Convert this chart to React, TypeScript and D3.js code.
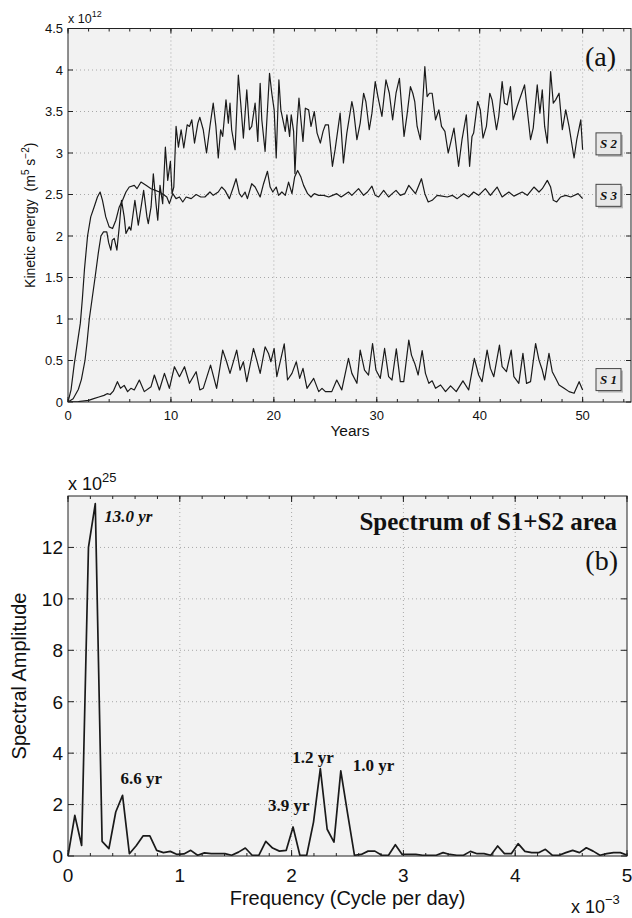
import React from "react";
import * as d3 from "d3";

// ---- Panel (a): kinetic energy time series (years, x1e12 m^5 s^-2)
const S1: [number, number][] = [
  [0, 0], [1, 0.005], [2, 0.02], [2.5, 0.04], [3, 0.06], [3.5, 0.08], [3.8, 0.1], [4.1, 0.09], [4.4, 0.13],
  [4.8, 0.245], [5.1, 0.165], [5.46, 0.2], [5.79, 0.125], [6.11, 0.165], [6.44, 0.145], [6.93, 0.265],
  [7.41, 0.125], [8.07, 0.185], [8.39, 0.325], [8.88, 0.145], [9.37, 0.345], [9.85, 0.165], [10.34, 0.425],
  [10.83, 0.305], [11.32, 0.425], [11.8, 0.225], [12.45, 0.365], [12.81, 0.145], [13.14, 0.165], [13.85, 0.445],
  [14.44, 0.165], [15.03, 0.625], [15.41, 0.485], [15.74, 0.345], [16.39, 0.625], [16.72, 0.385], [17.04, 0.485],
  [17.37, 0.245], [18.02, 0.645], [18.34, 0.505], [18.67, 0.345], [19.15, 0.665], [19.48, 0.585], [19.71, 0.485],
  [20.03, 0.645], [20.29, 0.305], [21.01, 0.7], [21.33, 0.265], [21.76, 0.345], [22.18, 0.485], [22.51, 0.285],
  [22.83, 0.405], [23.22, 0.165], [23.87, 0.285], [24.36, 0.125], [24.68, 0.165], [25.01, 0.125], [25.63, 0.125],
  [26.11, 0.265], [26.6, 0.145], [27.25, 0.525], [27.58, 0.345], [28.07, 0.225], [28.39, 0.625], [28.81, 0.385],
  [29.2, 0.325], [29.59, 0.705], [29.92, 0.385], [30.34, 0.285], [30.76, 0.645], [31.15, 0.305], [31.48, 0.265],
  [31.9, 0.64], [32.29, 0.245], [32.62, 0.245], [33.11, 0.745], [33.37, 0.565], [33.69, 0.465], [34.02, 0.325],
  [34.41, 0.62], [34.73, 0.345], [35.06, 0.225], [35.38, 0.255], [35.71, 0.165], [36.2, 0.205], [36.68, 0.125],
  [37.17, 0.195], [37.72, 0.125], [38.37, 0.255], [38.93, 0.145], [39.48, 0.525], [39.9, 0.325], [40.23, 0.245],
  [40.72, 0.625], [41.04, 0.405], [41.37, 0.305], [41.92, 0.685], [42.18, 0.425], [42.6, 0.365], [43.06, 0.625],
  [43.32, 0.305], [43.8, 0.225], [44.2, 0.585], [44.55, 0.225], [44.94, 0.245], [45.43, 0.705], [45.76, 0.505],
  [46.08, 0.385], [46.31, 0.265], [46.73, 0.585], [47.05, 0.365], [47.38, 0.285], [47.71, 0.205], [48.2, 0.165],
  [48.68, 0.125], [49.17, 0.105], [49.66, 0.245], [50, 0.145],
];

const S2: [number, number][] = [
  [0, 0], [0.5, 0.04], [1.0, 0.15], [1.3, 0.27], [1.65, 0.5], [1.85, 0.72], [2.07, 1.0], [2.35, 1.25], [2.63, 1.5],
  [2.95, 1.8], [3.2, 2.0], [3.45, 2.05], [3.77, 2.05], [3.95, 1.92], [4.16, 1.83], [4.3, 1.95], [4.49, 1.97],
  [4.75, 1.83], [4.98, 2.11], [5.2, 2.43], [5.46, 2.23], [5.63, 2.03], [5.95, 2.11], [6.11, 2.07], [6.5, 2.43],
  [6.83, 2.13], [7.35, 2.55], [7.67, 2.23], [7.8, 2.15], [8.07, 2.35], [8.29, 2.75], [8.55, 2.39], [8.72, 2.19],
  [8.94, 2.61], [9.2, 2.39], [9.46, 3.07], [9.69, 2.67], [9.95, 2.9], [10.11, 2.51], [10.28, 2.59], [10.5, 3.32],
  [10.73, 3.07], [10.99, 3.28], [11.25, 3.06], [11.58, 3.34], [11.8, 3.32], [12.03, 3.4], [12.29, 3.12],
  [12.62, 3.36], [12.81, 3.43], [13.14, 3.28], [13.46, 3.0], [13.79, 3.32], [14.11, 3.6], [14.37, 3.32],
  [14.6, 2.94], [14.83, 3.28], [15.03, 3.2], [15.35, 3.64], [15.58, 3.36], [15.74, 3.6], [15.9, 3.28],
  [16.23, 3.04], [16.55, 3.94], [16.78, 3.6], [17.04, 3.18], [17.37, 3.76], [17.63, 3.28], [17.85, 3.32],
  [18.18, 3.6], [18.44, 3.14], [18.67, 3.84], [18.83, 3.4], [19.15, 3.02], [19.58, 3.96], [19.8, 3.72],
  [20.03, 3.52], [20.23, 2.94], [20.49, 3.88], [20.68, 3.52], [20.88, 3.4], [21.11, 3.26], [21.27, 3.46],
  [21.53, 3.2], [21.69, 3.46], [21.92, 3.26], [22.05, 2.75], [22.24, 3.32], [22.44, 3.66], [22.63, 3.4],
  [22.83, 3.14], [23.06, 3.54], [23.38, 3.52], [23.61, 3.32], [23.93, 3.5], [24.2, 3.24], [24.52, 3.12],
  [24.78, 3.26], [25.01, 3.34], [25.3, 3.34], [25.69, 2.84], [25.95, 3.04], [26.44, 3.48], [26.76, 2.88],
  [27.09, 3.24], [27.58, 3.62], [27.74, 3.52], [28.07, 3.16], [28.39, 3.36], [28.72, 3.72], [28.94, 3.62],
  [29.27, 3.28], [29.53, 3.48], [29.85, 3.86], [30.11, 3.68], [30.5, 3.44], [30.89, 3.88], [31.22, 3.72],
  [31.54, 3.4], [31.87, 3.72], [32.2, 3.9], [32.39, 3.6], [32.65, 3.2], [32.94, 3.46], [33.27, 3.8], [33.5, 3.72],
  [33.69, 3.62], [33.92, 3.32], [34.24, 3.16], [34.67, 4.04], [34.89, 3.68], [35.12, 3.72], [35.38, 3.72],
  [35.71, 3.4], [36.03, 3.52], [36.29, 3.32], [36.62, 3.26], [36.94, 3.0], [37.17, 3.12], [37.5, 3.3],
  [37.95, 2.84], [38.28, 3.16], [38.7, 3.46], [39.02, 2.84], [39.25, 3.2], [39.41, 3.24], [39.8, 3.62],
  [40.06, 3.52], [40.32, 3.18], [40.65, 3.32], [40.98, 3.72], [41.2, 3.64], [41.63, 3.28], [41.85, 3.44],
  [42.18, 3.86], [42.41, 3.6], [42.67, 3.58], [42.99, 3.8], [43.25, 3.4], [43.64, 3.56], [43.97, 3.68],
  [44.36, 3.82], [44.62, 3.52], [44.94, 3.16], [45.2, 3.3], [45.59, 3.82], [45.85, 3.48], [46.08, 3.76],
  [46.31, 3.32], [46.57, 3.12], [46.89, 3.98], [47.15, 3.6], [47.38, 3.64], [47.71, 3.72], [48.03, 3.28],
  [48.36, 3.52], [48.68, 3.32], [49.17, 2.94], [49.43, 3.16], [49.82, 3.4], [50, 3.04],
];

const S3: [number, number][] = [
  [0, 0], [0.3, 0.15], [0.6, 0.45], [0.9, 0.7], [1.2, 0.95], [1.4, 1.25], [1.6, 1.6], [1.9, 2.0], [2.21, 2.23],
  [2.54, 2.35], [2.86, 2.47], [3.12, 2.53], [3.35, 2.43], [3.67, 2.23], [4.0, 2.11], [4.33, 2.09], [4.65, 2.19],
  [4.98, 2.35], [5.3, 2.43], [5.63, 2.53], [5.95, 2.59], [6.44, 2.61], [6.7, 2.57], [7.09, 2.65], [7.58, 2.61],
  [8.07, 2.57], [8.5, 2.55], [8.88, 2.53], [9.37, 2.49], [9.6, 2.47], [9.85, 2.39], [10.18, 2.51], [10.5, 2.45],
  [10.83, 2.47], [11.15, 2.41], [11.48, 2.47], [11.97, 2.45], [12.45, 2.5], [12.9, 2.47], [13.3, 2.47],
  [13.79, 2.53], [14.11, 2.49], [14.6, 2.53], [14.93, 2.59], [15.25, 2.55], [15.68, 2.45], [16.07, 2.59],
  [16.33, 2.69], [16.65, 2.51], [16.88, 2.47], [17.2, 2.53], [17.43, 2.45], [17.85, 2.63], [18.18, 2.59],
  [18.67, 2.47], [19.0, 2.63], [19.38, 2.78], [19.64, 2.59], [19.9, 2.53], [20.23, 2.59], [20.46, 2.49],
  [20.78, 2.53], [21.11, 2.49], [21.43, 2.65], [21.76, 2.51], [22.02, 2.71], [22.31, 2.79], [22.63, 2.71],
  [22.89, 2.61], [23.28, 2.51], [23.61, 2.47], [23.93, 2.51], [24.36, 2.49], [24.85, 2.49], [25.33, 2.47],
  [25.7, 2.49], [26.11, 2.51], [26.54, 2.47], [26.9, 2.5], [27.25, 2.53], [27.58, 2.49], [28.23, 2.57],
  [28.72, 2.49], [29.1, 2.53], [29.53, 2.6], [29.85, 2.49], [30.18, 2.47], [30.67, 2.55], [31.15, 2.47],
  [31.5, 2.51], [31.87, 2.55], [32.29, 2.49], [32.72, 2.51], [33.11, 2.61], [33.5, 2.55], [33.76, 2.51],
  [34.34, 2.69], [34.67, 2.51], [35.0, 2.41], [35.38, 2.43], [35.87, 2.49], [36.36, 2.48], [36.85, 2.47],
  [37.33, 2.49], [37.82, 2.45], [38.44, 2.51], [38.93, 2.47], [39.41, 2.53], [39.9, 2.49], [40.55, 2.57],
  [41.04, 2.49], [41.69, 2.59], [42.18, 2.47], [42.83, 2.53], [43.32, 2.48], [44.13, 2.53], [44.62, 2.49],
  [45.27, 2.59], [45.76, 2.53], [46.08, 2.57], [46.57, 2.67], [46.89, 2.59], [47.15, 2.43], [47.48, 2.41],
  [47.87, 2.47], [48.36, 2.49], [48.85, 2.47], [49.56, 2.51], [50, 2.45],
];

const SERIES_LABELS = ["S 1", "S 2", "S 3"];
const SERIES_LABEL_AT = [0.27, 3.11, 2.49]; // y-value anchors of label boxes

const A_XTICKS = [0, 10, 20, 30, 40, 50];
const A_YTICKS = [0, 0.5, 1, 1.5, 2, 2.5, 3, 3.5, 4, 4.5];
const A_YLABELS = ["0", "0.5", "1", "1.5", "2", "2.5", "3", "3.5", "4", "4.5"];

// ---- Panel (b): spectrum (frequency x1e-3 cycle/day, amplitude x1e25)
const SPEC_DF = 0.061;
const SPEC_AMP = [
  0, 1.58, 0.41, 12.0, 13.7, 0.57, 0.29, 1.71, 2.36, 0.09, 0.4, 0.78, 0.78, 0.22, 0.13, 0.18, 0.06, 0.08, 0.22,
  0.03, 0.12, 0.09, 0.09, 0.09, 0.03, 0.15, 0.31, 0.03, 0.03, 0.57, 0.31, 0.19, 0.22, 1.13, 0.03, 0.03, 1.32,
  3.4, 1.04, 0.54, 3.31, 1.65, 0.03, 0.06, 0.19, 0.19, 0.03, 0.03, 0.44, 0.06, 0.06, 0.06, 0.03, 0.03, 0.03,
  0.13, 0.06, 0.03, 0.03, 0.18, 0.09, 0.09, 0.03, 0.39, 0.09, 0.09, 0.48, 0.18, 0.13, 0.13, 0.26, 0.03, 0.03,
  0.13, 0.22, 0.13, 0.32, 0.19, 0.03, 0.09, 0.13, 0.13, 0.03,
];
const PEAK_LABELS = ["13.0 yr", "6.6 yr", "3.9 yr", "1.2 yr", "1.0 yr"];
const PEAK_INDEX = [4, 8, 33, 37, 40];
const B_XTICKS = [0, 1, 2, 3, 4, 5];
const B_YTICKS = [0, 2, 4, 6, 8, 10, 12];

const SANS = "'Liberation Sans', Arial, Helvetica, sans-serif";
const SERIF = "'Liberation Serif', 'Times New Roman', serif";
const BG = "#f2f2f2";
const GRID = "#a8a8a8";
const INK = "#1a1a1a";

export default function App() {
  const A = { l: 68, r: 631, t: 28.5, b: 402 };
  const B = { l: 68, r: 627, t: 496, b: 856 };
  const xA = d3.scaleLinear().domain([0, 54.7]).range([A.l, A.r]);
  const yA = d3.scaleLinear().domain([0, 4.5]).range([A.b, A.t]);
  const xB = d3.scaleLinear().domain([0, 5]).range([B.l, B.r]);
  const yB = d3.scaleLinear().domain([0, 14]).range([B.b, B.t]);

  const lineA = d3.line<[number, number]>().x((d) => xA(d[0])).y((d) => yA(d[1]));
  const specPts: [number, number][] = SPEC_AMP.map((v, i) => [i * SPEC_DF, v]);
  const lineB = d3.line<[number, number]>().x((d) => xB(d[0])).y((d) => yB(d[1]));

  const aMinor = d3.range(0, 55, 2);
  const bMinor = d3.range(0, 5.0001, 0.2);

  const series = [S1, S2, S3];

  return (
    <svg width={632} height={918} style={{ position: "absolute", left: 0, top: 0, background: "#fff" }}>
      <defs>
        <clipPath id="clipA">
          <rect x={A.l} y={A.t} width={A.r - A.l} height={A.b - A.t} />
        </clipPath>
        <clipPath id="clipB">
          <rect x={B.l} y={B.t} width={B.r - B.l} height={B.b - B.t} />
        </clipPath>
      </defs>

      {/* ---------------- Panel (a) ---------------- */}
      <rect x={A.l} y={A.t} width={A.r - A.l} height={A.b - A.t} fill={BG} />
      {A_YTICKS.filter((v) => v > 0 && v < 4.5).map((v) => (
        <line key={"agy" + v} x1={A.l} x2={A.r} y1={yA(v)} y2={yA(v)} stroke={GRID} strokeDasharray="1 3" />
      ))}
      {A_XTICKS.filter((v) => v > 0).map((v) => (
        <line key={"agx" + v} x1={xA(v)} x2={xA(v)} y1={A.t} y2={A.b} stroke={GRID} strokeDasharray="1 3" />
      ))}
      <g clipPath="url(#clipA)">
        {series.map((s, i) => (
          <path key={"s" + i} d={lineA(s) || ""} fill="none" stroke={INK} strokeWidth={1.2} strokeLinejoin="round" />
        ))}
      </g>
      <rect x={A.l} y={A.t} width={A.r - A.l} height={A.b - A.t} fill="none" stroke="#222" strokeWidth={1} />
      {aMinor.map((v) => (
        <g key={"amn" + v}>
          <line x1={xA(v)} x2={xA(v)} y1={A.b} y2={A.b - 3} stroke="#222" />
          <line x1={xA(v)} x2={xA(v)} y1={A.t} y2={A.t + 3} stroke="#222" />
        </g>
      ))}
      {A_XTICKS.map((v) => (
        <g key={"axt" + v}>
          <line x1={xA(v)} x2={xA(v)} y1={A.b} y2={A.b - 5} stroke="#222" />
          <line x1={xA(v)} x2={xA(v)} y1={A.t} y2={A.t + 5} stroke="#222" />
          <text x={xA(v)} y={419.5} textAnchor="middle" fontFamily={SANS} fontSize={13} fill="#111">
            {v}
          </text>
        </g>
      ))}
      {A_YTICKS.map((v, i) => (
        <g key={"ayt" + v}>
          <line x1={A.l} x2={A.l + 5} y1={yA(v)} y2={yA(v)} stroke="#222" />
          <line x1={A.r} x2={A.r - 5} y1={yA(v)} y2={yA(v)} stroke="#222" />
          <text x={63} y={yA(v)} dy="0.36em" textAnchor="end" fontFamily={SANS} fontSize={13} fill="#111">
            {A_YLABELS[i]}
          </text>
        </g>
      ))}
      <text x={68} y={23} fontFamily={SANS} fontSize={12.5} fill="#111">
        x 10<tspan dy={-6} fontSize={9}>12</tspan>
      </text>
      <text x={350} y={436} textAnchor="middle" fontFamily={SANS} fontSize={15.5} fill="#111">
        Years
      </text>
      <text transform={`translate(35,${(A.t + A.b) / 2}) rotate(-90)`} textAnchor="middle" fontFamily={SANS} fontSize={14} fill="#111">
        Kinetic energy{"\u00a0\u00a0"}(m<tspan dy={-6} fontSize={10}>5</tspan>
        <tspan dy={6}> s</tspan>
        <tspan dy={-6} fontSize={10}>−2</tspan>
        <tspan dy={6}>)</tspan>
      </text>
      <text x={616} y={66} textAnchor="end" fontFamily={SERIF} fontSize={28} fill="#111">
        (a)
      </text>
      {SERIES_LABELS.map((lab, i) => {
        const cy = yA(SERIES_LABEL_AT[i]);
        const bx = 596;
        return (
          <g key={"lab" + i}>
            <rect x={bx + 2} y={cy - 11 + 2} width={25} height={22} fill="#b8b8b8" />
            <rect x={bx} y={cy - 11} width={25} height={22} fill="#e8e8e8" stroke="#444" strokeWidth={1} />
            <text x={bx + 12.5} y={cy + 4.5} textAnchor="middle" fontFamily={SERIF} fontStyle="italic" fontWeight="bold" fontSize={13} fill="#111">
              {lab}
            </text>
          </g>
        );
      })}

      {/* ---------------- Panel (b) ---------------- */}
      <rect x={B.l} y={B.t} width={B.r - B.l} height={B.b - B.t} fill={BG} />
      {B_YTICKS.filter((v) => v > 0).map((v) => (
        <line key={"bgy" + v} x1={B.l} x2={B.r} y1={yB(v)} y2={yB(v)} stroke={GRID} strokeDasharray="1 3" />
      ))}
      {B_XTICKS.filter((v) => v > 0 && v < 5).map((v) => (
        <line key={"bgx" + v} x1={xB(v)} x2={xB(v)} y1={B.t} y2={B.b} stroke={GRID} strokeDasharray="1 3" />
      ))}
      <g clipPath="url(#clipB)">
        <path d={lineB(specPts) || ""} fill="none" stroke={INK} strokeWidth={1.7} strokeLinejoin="round" />
      </g>
      <rect x={B.l} y={B.t} width={B.r - B.l} height={B.b - B.t} fill="none" stroke="#222" strokeWidth={1} />
      {bMinor.map((v, i) => (
        <g key={"bmn" + i}>
          <line x1={xB(v)} x2={xB(v)} y1={B.b} y2={B.b - 3} stroke="#222" />
          <line x1={xB(v)} x2={xB(v)} y1={B.t} y2={B.t + 3} stroke="#222" />
        </g>
      ))}
      {B_XTICKS.map((v) => (
        <g key={"bxt" + v}>
          <line x1={xB(v)} x2={xB(v)} y1={B.b} y2={B.b - 6} stroke="#222" />
          <line x1={xB(v)} x2={xB(v)} y1={B.t} y2={B.t + 6} stroke="#222" />
          <text x={xB(v)} y={882} textAnchor="middle" fontFamily={SANS} fontSize={19} fill="#111">
            {v}
          </text>
        </g>
      ))}
      {B_YTICKS.map((v) => (
        <g key={"byt" + v}>
          <line x1={B.l} x2={B.l + 6} y1={yB(v)} y2={yB(v)} stroke="#222" />
          <line x1={B.r} x2={B.r - 6} y1={yB(v)} y2={yB(v)} stroke="#222" />
          <text x={63} y={yB(v)} dy="0.36em" textAnchor="end" fontFamily={SANS} fontSize={19} fill="#111">
            {v}
          </text>
        </g>
      ))}
      <text x={68} y={490} fontFamily={SANS} fontSize={18} fill="#111">
        x 10<tspan dy={-8} fontSize={13}>25</tspan>
      </text>
      <text transform={`translate(26,${(B.t + B.b) / 2}) rotate(-90)`} textAnchor="middle" fontFamily={SANS} fontSize={20} fill="#111">
        Spectral Amplitude
      </text>
      <text x={(B.l + B.r) / 2} y={905} textAnchor="middle" fontFamily={SANS} fontSize={20} fill="#111">
        Frequency (Cycle per day)
      </text>
      <text x={571} y={913} fontFamily={SANS} fontSize={18} fill="#111">
        x 10<tspan dy={-9} fontSize={13}>−3</tspan>
      </text>
      <text x={617} y={530} textAnchor="end" fontFamily={SERIF} fontWeight="bold" fontSize={25} fill="#111">
        Spectrum of S1+S2 area
      </text>
      <text x={618} y={570} textAnchor="end" fontFamily={SERIF} fontSize={28} fill="#111">
        (b)
      </text>
      {PEAK_LABELS.map((lab, i) => {
        const px = xB(PEAK_INDEX[i] * SPEC_DF);
        const py = yB(SPEC_AMP[PEAK_INDEX[i]]);
        const off: [number, number][] = [[9, 18], [-2, -11], [-25, -16], [-28, -6], [12, 0]];
        return (
          <text
            key={"pk" + i}
            x={px + off[i][0]}
            y={py + off[i][1]}
            fontFamily={SERIF}
            fontWeight="bold"
            fontStyle={i === 0 ? "italic" : "normal"}
            fontSize={17}
            fill="#111"
          >
            {lab}
          </text>
        );
      })}
    </svg>
  );
}
